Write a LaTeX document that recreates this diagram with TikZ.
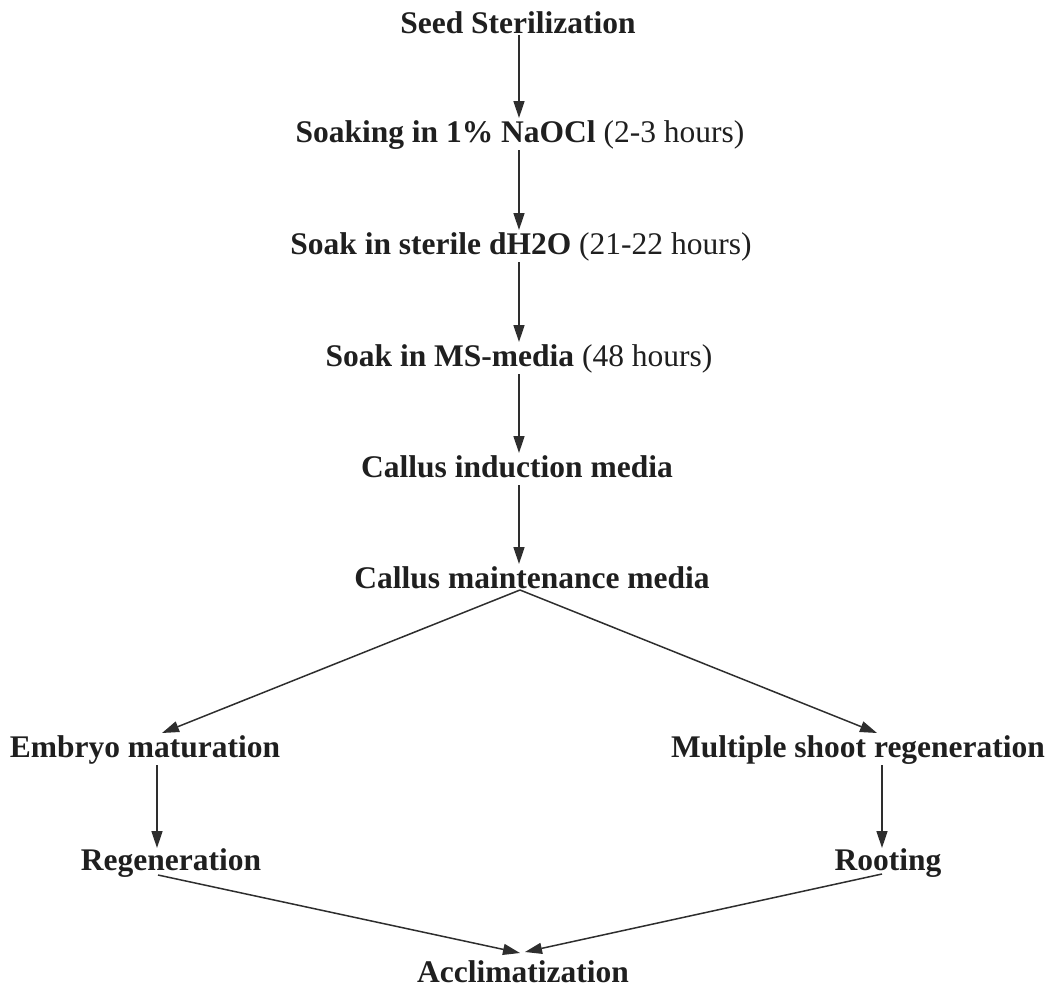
\documentclass[tikz,border=0pt]{standalone}
\usepackage{fontspec}
\setmainfont{Liberation Serif}
\usetikzlibrary{arrows.meta,calc}
\newcommand\labfs{\fontsize{31.5}{36}\selectfont}
\begin{document}
\begin{tikzpicture}[x=1pt,y=-1pt,
  lab/.style={font=\labfs, inner sep=0pt, anchor=base, text=black!88},
  arr/.style={-{Triangle[length=17pt,width=11pt]}, line width=1.5pt, draw=black!82}]
\useasboundingbox (0,0) rectangle (1061,988);
\coordinate (col) at (519,0);
\node[lab] (seed) at (518,33) {\textbf{Seed Sterilization}};
\node[lab] (naocl) at (520,142) {\textbf{Soaking in 1\% NaOCl} (2-3 hours)};
\node[lab] (dh2o) at (521,254) {\textbf{Soak in sterile dH2O} (21-22 hours)};
\node[lab] (ms) at (519,366) {\textbf{Soak in MS-media} (48 hours)};
\node[lab] (ind) at (517,477) {\textbf{Callus induction media}};
\node[lab] (maint) at (532,588) {\textbf{Callus maintenance media}};
\node[lab] (emb) at (145,757) {\textbf{Embryo maturation}};
\node[lab] (mult) at (858,757) {\textbf{Multiple shoot regeneration}};
\node[lab] (regen) at (171,870) {\textbf{Regeneration}};
\node[lab] (root) at (888,870) {\textbf{Rooting}};
\node[lab] (accl) at (523,982) {\textbf{Acclimatization}};
\draw[arr] ($(seed.base -| col)+(0,2)$) -- ($(naocl.base -| col)+(0,-24)$);
\draw[arr] ($(naocl.base -| col)+(0,8)$) -- ($(dh2o.base -| col)+(0,-24)$);
\draw[arr] ($(dh2o.base -| col)+(0,8)$) -- ($(ms.base -| col)+(0,-24)$);
\draw[arr] ($(ms.base -| col)+(0,8)$) -- ($(ind.base -| col)+(0,-24)$);
\draw[arr] ($(ind.base -| col)+(0,8)$) -- ($(maint.base -| col)+(0,-24)$);
\draw[arr] ($(maint.base -| col)+(1,2)$) -- ($(emb.base)+(17,-24)$);
\draw[arr] ($(maint.base -| col)+(1,2)$) -- ($(mult.base)+(19,-24)$);
\draw[arr] ($(emb.base)+(12,8)$) -- ($(regen.base)+(-14,-22)$);
\draw[arr] ($(mult.base)+(24,8)$) -- ($(root.base)+(-6,-22)$);
\draw[arr] ($(regen.base)+(-13,5)$) -- ($(accl.base)+(-3,-29)$);
\draw[arr] ($(root.base)+(-6,4)$) -- ($(accl.base)+(2,-30)$);
\end{tikzpicture}
\end{document}
